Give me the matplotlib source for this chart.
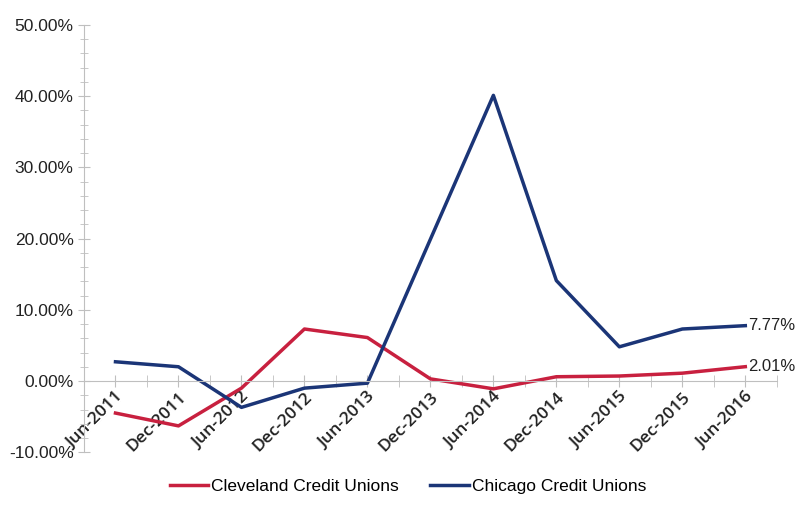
import numpy as np
import matplotlib.pyplot as plt
from matplotlib.ticker import MultipleLocator, FuncFormatter

# Chart data
dates = ["Jun-2011", "Dec-2011", "Jun-2012", "Dec-2012", "Jun-2013", "Dec-2013",
         "Jun-2014", "Dec-2014", "Jun-2015", "Dec-2015", "Jun-2016"]
cleveland = [-4.5, -6.3, -1.0, 7.3, 6.1, 0.3, -1.1, 0.6, 0.7, 1.1, 2.01]
chicago = [2.7, 2.0, -3.7, -1.0, -0.3, 19.9, 40.1, 14.1, 4.8, 7.3, 7.77]

red = "#C8203F"
navy = "#1B3577"
axis_gray = "#BFBFBF"

plt.rcParams['font.family'] = ['Liberation Sans', 'DejaVu Sans']

fig = plt.figure(figsize=(8, 5.07), dpi=100)
ax = fig.add_axes([0.105, 0.108, 0.866, 0.843])

x = np.arange(len(dates))
ax.plot(x, cleveland, color=red, lw=2.5, label="Cleveland Credit Unions")
ax.plot(x, chicago, color=navy, lw=2.5, label="Chicago Credit Unions")

ax.text(x[-1] + 0.05, chicago[-1], "%.2f%%" % chicago[-1], va="center", ha="left", fontsize=12, color="#222222")
ax.text(x[-1] + 0.05, cleveland[-1], "%.2f%%" % cleveland[-1], va="center", ha="left", fontsize=12, color="#222222")

ax.set_xlim(-0.5, len(dates) - 0.5)
ax.set_ylim(-10, 50)

for s in ["top", "right"]:
    ax.spines[s].set_visible(False)
ax.spines["bottom"].set_position(("data", 0))
ax.spines["bottom"].set_color(axis_gray)
ax.spines["left"].set_color(axis_gray)

ax.yaxis.set_major_locator(MultipleLocator(10))
ax.yaxis.set_minor_locator(MultipleLocator(2))
ax.yaxis.set_major_formatter(FuncFormatter(lambda v, p: "%.2f%%" % v))
ax.tick_params(axis="y", which="both", direction="inout", length=8, color=axis_gray, labelsize=12.5, labelcolor="#222222")
ax.tick_params(axis="y", which="minor", length=6)

ax.set_xticks(x)
ax.set_xticks(np.arange(-0.5, len(dates), 1.0), minor=True)
ax.set_xticklabels(dates, rotation=45, ha="right", rotation_mode="anchor", fontsize=12.5,
                   color="#222222", family=["Open Sans", "DejaVu Sans"], fontweight="semibold")
ax.tick_params(axis="x", which="both", direction="inout", length=8, color=axis_gray, pad=2)

fig.legend(loc="lower center", bbox_to_anchor=(0.51, -0.005), ncol=2, frameon=False, fontsize=12.5,
           handlelength=2.2, handletextpad=0.2, columnspacing=1.8)

fig.savefig("out.png", dpi=100)
